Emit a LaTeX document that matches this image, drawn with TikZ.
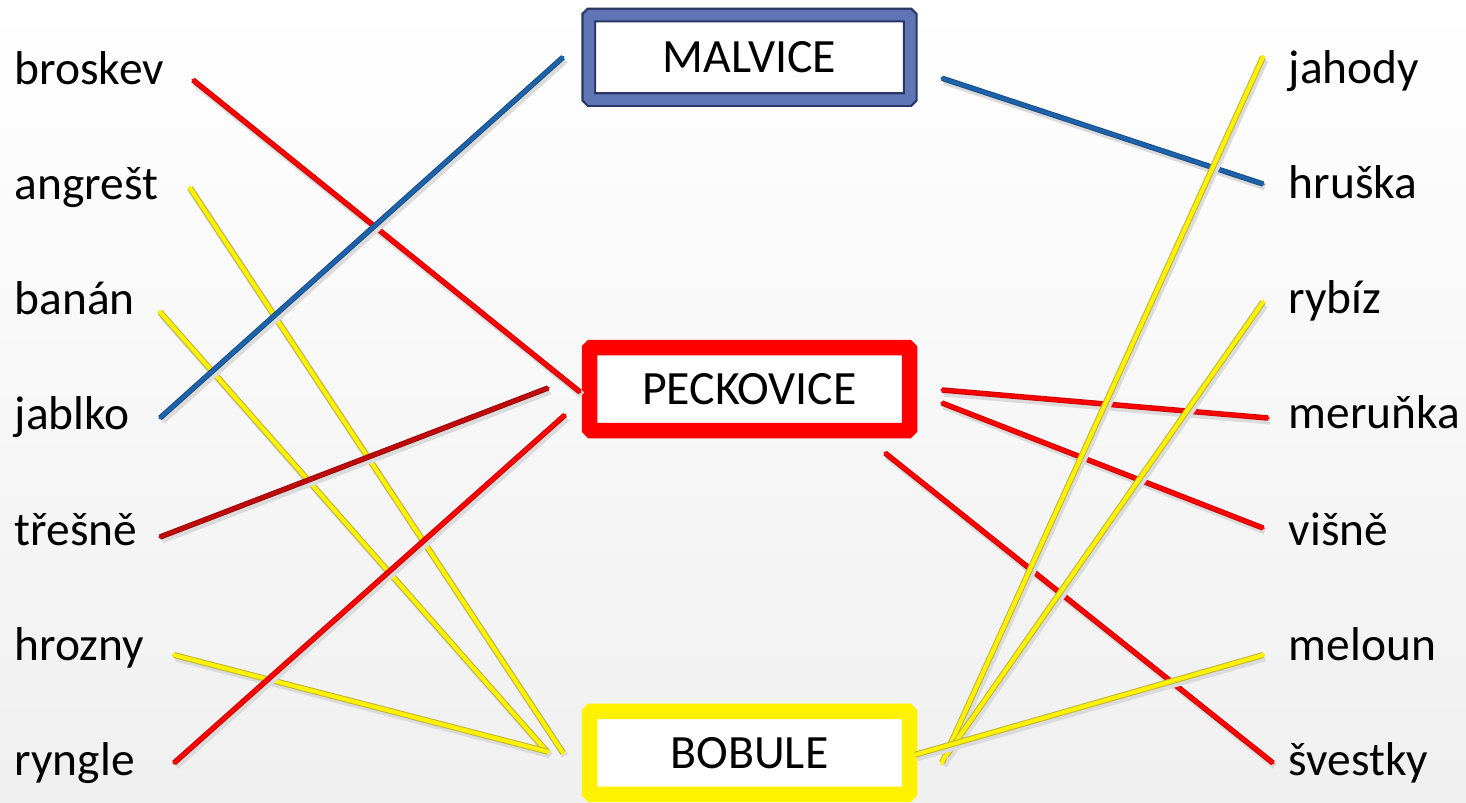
\documentclass[tikz,border=0pt]{standalone}
\usepackage{fontspec}
\setmainfont{Carlito}
\usepackage{tikz}
\usetikzlibrary{shapes,arrows}
\definecolor{malvblue}{HTML}{5F75B6}
\definecolor{malvdark}{HTML}{2A3764}
\definecolor{linkblue}{HTML}{1E63AA}
\definecolor{darkred}{HTML}{C00A0A}
\tikzstyle{fruit} = [inner sep=0pt, font=\fontsize{13.5}{15}\selectfont]
\tikzstyle{group} = [rectangle, fill=white, inner sep=0pt, minimum width=3.2cm,
    minimum height=0.83cm, rounded corners=0.5pt, font=\fontsize{13.6}{15}\selectfont]
\tikzstyle{line} = [line cap=round,
    preaction={draw=black!14, line width=0.07cm, transform canvas={shift={(0.02,-0.03)}}}]
\tikzstyle{redline} = [line, preaction={draw=red!80!black, line width=0.055cm}, draw=red, line width=0.035cm]
\tikzstyle{darkredline} = [line, preaction={draw=darkred!80!black, line width=0.055cm}, draw=darkred, line width=0.035cm]
\tikzstyle{blueline} = [line, preaction={draw=linkblue!80!black, line width=0.055cm}, draw=linkblue, line width=0.035cm]
\tikzstyle{yellowline} = [line, preaction={draw=yellow!70!black, line width=0.06cm}, draw=yellow, line width=0.04cm]

\begin{document}
\begin{tikzpicture}
    \shade [top color=white, bottom color=black!6] (0,0) rectangle (14.66,-8.02);
    \useasboundingbox (0,0) rectangle (14.66,-8.02);
    % Place nodes
    \node [group, draw=malvdark, line width=0.022cm, double=malvblue, double distance=0.105cm,
        minimum width=3.215cm, minimum height=0.845cm] at (7.495,-0.5725) (malvice) {MALVICE};
    \node [group, draw=red, line width=0.155cm] at (7.495,-3.89) (peckovice) {PECKOVICE};
    \node [group, draw=yellow, line width=0.155cm] at (7.495,-7.5275) (bobule) {BOBULE};
    \node [fruit, anchor=base west] at (0.14,-0.84) (broskev) {broskev};
    \node [fruit, anchor=base west] at (0.14,-1.99) (angrest) {angrešt};
    \node [fruit, anchor=base west] at (0.14,-3.14) (banan) {banán};
    \node [fruit, anchor=base west] at (0.14,-4.29) (jablko) {jablko};
    \node [fruit, anchor=base west] at (0.14,-5.45) (tresne) {třešně};
    \node [fruit, anchor=base west] at (0.14,-6.60) (hrozny) {hrozny};
    \node [fruit, anchor=base west] at (0.14,-7.75) (ryngle) {ryngle};
    \node [fruit, anchor=base west] at (12.88,-0.83) (jahody) {jahody};
    \node [fruit, anchor=base west] at (12.88,-1.98) (hruska) {hruška};
    \node [fruit, anchor=base west] at (12.88,-3.13) (rybiz) {rybíz};
    \node [fruit, anchor=base west] at (12.88,-4.28) (merunka) {meruňka};
    \node [fruit, anchor=base west] at (12.88,-5.45) (visne) {višně};
    \node [fruit, anchor=base west] at (12.88,-6.60) (meloun) {meloun};
    \node [fruit, anchor=base west] at (12.88,-7.75) (svestky) {švestky};
    % Draw edges
    \path [redline] ([shift={(1.79,0.04)}]broskev.base west) -- ([shift={(-1.695,-0.03)}]peckovice.center);
    \path [yellowline] ([shift={(1.76,0.11)}]angrest.base west) -- ([shift={(-1.865,0)}]bobule.center);
    \path [yellowline] ([shift={(1.46,0.02)}]banan.base west) -- ([shift={(-2.015,0)}]bobule.center);
    \path [blueline] ([shift={(1.46,0.11)}]jablko.base west) -- ([shift={(-1.865,0)}]malvice.center);
    \path [darkredline] ([shift={(1.46,0.08)}]tresne.base west) -- ([shift={(-2.015,0.01)}]peckovice.center);
    \path [yellowline] ([shift={(1.60,0.05)}]hrozny.base west) -- ([shift={(-2.015,0.01)}]bobule.center);
    \path [redline] ([shift={(1.60,0.12)}]ryngle.base west) -- ([shift={(-1.845,-0.26)}]peckovice.center);
    \path [blueline] ([shift={(1.925,-0.21)}]malvice.center) -- ([shift={(-0.25,0.14)}]hruska.base west);
    \path [redline] ([shift={(1.925,-0.01)}]peckovice.center) -- ([shift={(-0.20,0.10)}]merunka.base west);
    \path [redline] ([shift={(1.925,-0.14)}]peckovice.center) -- ([shift={(-0.25,0.17)}]visne.base west);
    \path [redline] ([shift={(1.355,-0.64)}]peckovice.center) -- ([shift={(-0.15,0.12)}]svestky.base west);
    \path [yellowline] ([shift={(1.925,-0.10)}]bobule.center) -- ([shift={(-0.25,0.26)}]jahody.base west);
    \path [yellowline] ([shift={(1.965,-0.03)}]bobule.center) -- ([shift={(-0.25,0.11)}]rybiz.base west);
    \path [yellowline] ([shift={(1.655,-0.02)}]bobule.center) -- ([shift={(-0.25,0.05)}]meloun.base west);
\end{tikzpicture}
\end{document}
